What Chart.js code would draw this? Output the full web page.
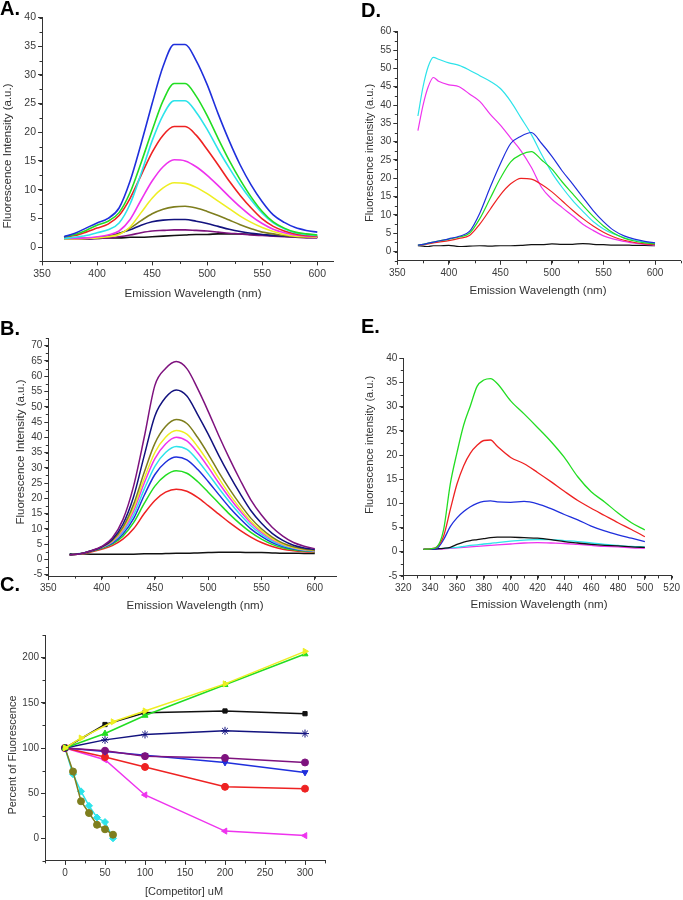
<!DOCTYPE html>
<html>
<head>
<meta charset="UTF-8">
<script src="https://cdn.jsdelivr.net/npm/chart.js@4.4.1/dist/chart.umd.min.js"></script>
<style>
  body { margin: 0; background: #fff; font-family: "Liberation Sans", Arial, sans-serif; }
  #fig { position: relative; width: 683px; height: 900px; overflow: hidden; background: #fff; }
  .panel { position: absolute; }
  .tag { position: absolute; font-weight: bold; font-size: 20px; line-height: 20px; color: #000; }
  .ttl { position: absolute; color: #333; font-size: 11.5px; white-space: nowrap; transform: translate(-50%, -50%); }
  .ttl.v { transform: translate(-50%, -50%) rotate(-90deg); }
  .sm { font-size: 11px; }
</style>
</head>
<body>
<div id="fig">
  <div class="panel" style="left:0;top:0"><canvas id="chartA" width="340" height="300"></canvas></div>
  <div class="panel" style="left:340px;top:0"><canvas id="chartD" width="343" height="300"></canvas></div>
  <div class="panel" style="left:0;top:300px"><canvas id="chartB" width="340" height="300"></canvas></div>
  <div class="panel" style="left:340px;top:300px"><canvas id="chartE" width="343" height="300"></canvas></div>
  <div class="panel" style="left:0;top:600px"><canvas id="chartC" width="340" height="300"></canvas></div>

  <div class="tag" style="left:0;top:-2px">A.</div>
  <div class="tag" style="left:361px;top:0">D.</div>
  <div class="tag" style="left:0;top:318px">B.</div>
  <div class="tag" style="left:361px;top:316px">E.</div>
  <div class="tag" style="left:0;top:574px">C.</div>

  <div class="ttl v" style="left:7px;top:156px">Fluorescence Intensity (a.u.)</div>
  <div class="ttl" style="left:193px;top:293px">Emission Wavelength (nm)</div>
  <div class="ttl v sm" style="left:369px;top:153px">Fluorescence intensity (a.u.)</div>
  <div class="ttl" style="left:538px;top:290px">Emission Wavelength (nm)</div>
  <div class="ttl v" style="left:20px;top:452px">Fluorescence Intensity (a.u.)</div>
  <div class="ttl" style="left:195px;top:605px">Emission Wavelength (nm)</div>
  <div class="ttl v sm" style="left:369px;top:445px">Fluorescence intensity (a.u.)</div>
  <div class="ttl" style="left:539px;top:604px">Emission Wavelength (nm)</div>
  <div class="ttl v sm" style="left:12px;top:755px">Percent of Fluorescence</div>
  <div class="ttl sm" style="left:184px;top:891px">[Competitor] uM</div>
</div>

<script>
// ---- panel A : emission spectra (nm vs a.u.)
var wlA = [370,380,390,400,410,420,430,440,450,460,470,480,490,500,510,520,530,540,550,560,570,580,590,600];
var aBlue    = [1.8,2.4,3.3,4.2,5.0,6.8,11.5,18,25,31.5,35.3,35.3,32.5,28.3,23.2,18.5,14.3,10.8,7.9,5.6,4.3,3.4,2.9,2.6];
var aGreen   = [1.8,2.2,2.9,3.8,4.5,6.0,9.5,14.7,20.3,25.5,28.5,28.5,26.3,22.9,18.9,15.1,11.7,8.7,6.2,4.4,3.3,2.6,2.3,2.1];
var aCyan    = [1.5,1.7,2.0,2.5,3.0,4.2,7.5,12.8,18.5,23,25.5,25.5,23.5,20.5,17,13.8,10.8,8.2,5.9,4.2,3.2,2.5,2.2,2.0];
var aRed     = [1.7,2.0,2.6,3.3,4.0,5.5,8.5,12.5,16.5,19.5,21,21,19.5,17,14.3,11.5,9,6.8,4.9,3.6,2.8,2.3,2.0,1.9];
var aMagenta = [1.5,1.5,1.6,1.8,2.1,2.8,4.8,8.2,11.5,14,15.2,15,14,12.5,10.7,8.8,7,5.4,4.1,3.1,2.5,2.1,1.9,1.8];
var aYellow  = [1.4,1.4,1.5,1.6,1.8,2.2,3.5,6,8.5,10.3,11.2,11.1,10.4,9.3,8,6.7,5.4,4.3,3.4,2.7,2.2,1.9,1.8,1.7];
var aOlive   = [1.4,1.4,1.5,1.6,1.8,2.3,3.3,4.6,5.8,6.6,7.0,7.1,6.8,6.2,5.5,4.7,3.9,3.2,2.6,2.3,2.0,1.8,1.7,1.7];
var aNavy    = [1.5,1.5,1.5,1.6,1.9,2.4,3.0,3.8,4.4,4.7,4.8,4.8,4.5,4.1,3.6,3.1,2.7,2.4,2.2,2.0,1.9,1.8,1.7,1.7];
var aPurple  = [1.4,1.4,1.4,1.5,1.6,1.8,2.1,2.5,2.8,2.9,3.0,3.0,2.9,2.8,2.6,2.4,2.3,2.1,2.0,1.9,1.8,1.7,1.6,1.6];
var aBlack   = [1.5,1.5,1.5,1.5,1.6,1.6,1.7,1.7,1.8,1.9,2.0,2.1,2.2,2.2,2.3,2.3,2.3,2.2,2.1,2.0,1.9,1.8,1.7,1.7];
var aXTicks = [350,400,450,500,550,600];
var aYTicks = [0,5,10,15,20,25,30,35,40];

// ---- panel B
var wlB = [370,380,390,400,410,420,430,440,450,460,470,480,490,500,510,520,530,540,550,560,570,580,590,600];
var bPurple  = [1.5,1.8,2.8,4.2,7,13,24,40,57,62.5,64.8,62.5,56,48.5,40.5,33,26,19.5,14.5,10.5,7.6,5.5,4.3,3.5];
var bNavy    = [1.5,1.8,2.7,4,6.5,11.5,20.5,34,47,53,55.5,53.5,47.5,41,34,27.5,21.5,16,11.8,8.5,6.2,4.6,3.7,3.2];
var bOlive   = [1.5,1.8,2.7,4,6.2,10.5,18,28.5,38,43.5,45.8,44.5,40,34.5,28.5,23,18,13.5,10,7.3,5.3,4.1,3.4,3.0];
var bYellow  = [1.5,1.8,2.7,4,6,10,16.8,26.5,35,40,42.2,41,37,32,26.5,21.3,16.7,12.5,9.3,6.8,5,3.9,3.2,2.9];
var bMagenta = [1.5,1.8,2.7,3.9,5.8,9.5,15.8,25,33,37.8,40,38.8,35,30.2,25,20.2,15.8,11.9,8.8,6.5,4.8,3.8,3.1,2.8];
var bCyan    = [1.6,1.9,2.8,3.9,5.6,9,14.5,23,30.5,35,37,36,32.5,28,23.3,18.8,14.7,11,8.2,6,4.5,3.6,3.0,2.7];
var bBlue    = [1.5,1.8,2.7,3.8,5.3,8.3,13.3,21,27.8,31.8,33.5,32.6,29.5,25.5,21.2,17,13.3,10,7.5,5.5,4.2,3.4,2.9,2.6];
var bGreen   = [1.5,1.8,2.6,3.6,5,7.6,12,18.3,24,27.5,29,28.2,25.5,22,18.4,14.8,11.6,8.8,6.6,4.9,3.8,3.1,2.7,2.5];
var bRed     = [1.5,1.7,2.4,3.3,4.5,6.6,10,15,19.3,22,23,22.3,20.3,17.6,14.8,12,9.5,7.3,5.5,4.2,3.3,2.8,2.5,2.3];
var bBlack   = [1.8,1.8,1.7,1.7,1.7,1.7,1.7,1.8,1.8,1.9,2.0,2.0,2.1,2.2,2.3,2.3,2.3,2.2,2.2,2.1,2.0,2.0,1.9,1.9];
var bXTicks = [350,400,450,500,550,600];
var bYTicks = [-5,0,5,10,15,20,25,30,35,40,45,50,55,60,65,70];

// ---- panel D
var wlD = [370,375,380,385,390,400,410,420,430,440,450,460,470,480,490,500,510,520,530,540,550,560,570,580,590,600];
var dCyan    = [37,45,50.5,53,52.5,51.5,50.8,49.5,48,46.5,44.5,41,36.5,32,26.5,21.5,17.5,14,11,8.2,6.2,4.8,3.8,3.1,2.6,2.3];
var dMagenta = [33,40,45,47.5,46.5,45.5,45,43,41,37.5,34.5,31,27.5,23,17.5,14.3,12,9.8,7.5,5.8,4.3,3.4,2.8,2.3,2.0,1.8];
var dBlue    = [1.8,2.0,2.3,2.6,2.9,3.5,4.2,5.5,10.5,17.5,24,29.5,31.5,32.5,29.5,26,22,18.5,14.8,11.2,8.2,5.8,4.3,3.4,2.8,2.4];
var dGreen   = [1.8,2.0,2.3,2.6,2.9,3.4,4.0,5.0,9,14.5,20,24.5,26.5,27.3,25,22.5,19,15.8,12.6,9.6,7,5,3.7,2.9,2.4,2.1];
var dRed     = [1.7,1.9,2.1,2.4,2.6,3.0,3.6,4.4,7.5,11.5,15.5,18.5,20,19.8,18.3,16.3,13.8,11.3,9,7,5.3,4,3.1,2.5,2.1,1.9];
var dBlack   = [1.6,1.5,1.4,1.6,1.6,1.7,1.4,1.5,1.6,1.5,1.6,1.6,1.7,1.9,1.9,2.1,2.0,2.0,2.2,2.0,1.9,1.8,1.8,1.7,1.7,1.6];
var dXTicks = [350,400,450,500,550,600];
var dYTicks = [0,5,10,15,20,25,30,35,40,45,50,55,60];

// ---- panel E
var wlE = [335,340,345,350,355,360,365,370,375,380,385,390,400,410,420,430,440,450,460,470,480,490,500];
var eGreen   = [0.5,0.6,1.0,4.5,14,20.5,26.2,30.2,34.2,35.5,35.8,34.8,31.2,28.5,25.7,22.8,19.5,15.5,12.4,10.3,8,6,4.5];
var eRed     = [0.5,0.6,1.0,3.2,8.7,14,17.8,20.4,22,23,23.1,21.8,19.5,18.2,16.4,14.5,12.5,10.6,9,7.5,6,4.6,3.1];
var eBlue    = [0.5,0.5,0.7,2.5,5.2,7.0,8.3,9.3,10,10.4,10.5,10.3,10.2,10.4,9.9,8.9,7.7,6.6,5.3,4.3,3.5,2.8,2.1];
var eBlack   = [0.5,0.5,0.6,0.7,0.9,1.5,2.0,2.3,2.5,2.7,2.9,3.0,3.0,2.9,2.8,2.5,2.1,1.8,1.5,1.3,1.2,1.0,0.9];
var eCyan    = [0.5,0.5,0.6,0.7,0.8,0.9,1.1,1.3,1.4,1.6,1.7,1.9,2.2,2.4,2.5,2.5,2.3,2.1,1.8,1.5,1.3,1.1,1.0];
var eMagenta = [0.5,0.5,0.5,0.6,0.7,0.8,0.9,1.0,1.1,1.2,1.3,1.4,1.6,1.8,1.9,1.8,1.7,1.5,1.3,1.1,1.0,0.8,0.7];
var eXTicks = [320,340,360,380,400,420,440,460,480,500,520];
var eYTicks = [-5,0,5,10,15,20,25,30,35,40];

// ---- panel C : percent of fluorescence vs competitor (uM)
var cConc    = [0,50,100,200,300];
var cBlack   = [100,126,139,141,138];
var cRed     = [100,90,79,57,55];
var cGreen   = [100,116,136,170,204];
var cBlue    = [100,96,92,84,73];
var cMagenta = [100,87,48,8,3];
var cNavy    = [100,109,115,119,116];
var cPurple  = [100,97,91,89,84];
var cYellowConc = [0,20,60,100,200,300];
var cYellow  = [100,111,129,141,171,207];
var cLowConc = [0,10,20,30,40,50,60];
var cCyan    = [100,71,52,36,23,18,0];
var cOlive   = [100,74,41,28,15,10,4];
var cXTicks = [0,50,100,150,200,250,300];
var cYTicks = [0,50,100,150,200];

var col = {
  black: '#111111', red: '#ee2222', green: '#22dd22', blue: '#1f2fdc', cyan: '#2de3ea',
  magenta: '#ee33ee', yellow: '#eeee22', olive: '#7e7e1e', navy: '#12127e', purple: '#7e127e'
};
var AX = '#333';
var TXT = '#3a3a3a';
var FONT = '"Liberation Sans", Arial, sans-serif';

// short outward minor ticks between the labelled ones
Chart.register({
  id: 'minorTicks',
  afterDraw: function(chart, args, opts) {
    var ctx = chart.ctx;
    ctx.save();
    ctx.strokeStyle = AX;
    ctx.lineWidth = 1;
    ['x', 'y'].forEach(function(id) {
      var step = opts[id];
      if (!step) return;
      var s = chart.scales[id];
      for (var v = Math.ceil(s.min / step) * step; v <= s.max + 1e-9; v += step) {
        var p = Math.round(s.getPixelForValue(v)) + 0.5;
        ctx.beginPath();
        if (id === 'x') { ctx.moveTo(p, s.top); ctx.lineTo(p, s.top + 2.5); }
        else { ctx.moveTo(s.right, p); ctx.lineTo(s.right - 2.5, p); }
        ctx.stroke();
      }
    });
    ctx.restore();
  }
});

function xy(xs, ys) {
  return xs.map(function(x, i) { return {x: x, y: ys[i]}; });
}

function spectra(xs, list, lw) {
  return list.map(function(s) {
    return {
      data: xy(xs, s[0]), borderColor: s[1], backgroundColor: s[1],
      borderWidth: lw, pointRadius: 0, cubicInterpolationMode: 'monotone', fill: false
    };
  });
}

function scales(xr, yr, xt, yt, yW, xH, fs) {
  function axis(r, t, fit) {
    return {
      type: 'linear', min: r[0], max: r[1],
      border: {display: true, color: AX, width: 1},
      grid: {drawOnChartArea: false, drawTicks: true, tickLength: 4, color: AX},
      ticks: {color: TXT, font: {family: FONT, size: fs}, padding: 2, maxRotation: 0, autoSkip: false},
      afterBuildTicks: function(s) { s.ticks = t.map(function(v) { return {value: v}; }); },
      afterFit: fit
    };
  }
  return {
    x: axis(xr, xt, function(s) { s.height = xH; }),
    y: axis(yr, yt, function(s) { s.width = yW; })
  };
}

function makeChart(id, datasets, sc, pad, minor) {
  new Chart(document.getElementById(id), {
    type: 'line',
    data: {datasets: datasets},
    options: {
      responsive: false, animation: false, devicePixelRatio: 1,
      layout: {padding: pad},
      plugins: {legend: {display: false}, tooltip: {enabled: false}, minorTicks: minor},
      scales: sc
    }
  });
}

makeChart('chartA', spectra(wlA, [
  [aBlue, col.blue], [aGreen, col.green], [aCyan, col.cyan], [aRed, col.red], [aMagenta, col.magenta],
  [aYellow, col.yellow], [aOlive, col.olive], [aNavy, col.navy], [aPurple, col.purple], [aBlack, col.black]
], 1.6), scales([350, 615], [-2.5, 40], aXTicks, aYTicks, 42, 38.6, 10.5),
  {left: 0, top: 17.5, right: 6.2, bottom: 0}, {x: 25, y: 2.5});

makeChart('chartD', spectra(wlD, [
  [dBlue, col.blue], [dGreen, col.green], [dRed, col.red], [dCyan, col.cyan], [dMagenta, col.magenta], [dBlack, col.black]
], 1.2), scales([350, 625], [-2.5, 60], dXTicks, dYTicks, 57.3, 39.2, 10),
  {left: 0, top: 31.7, right: 2.2, bottom: 0}, {x: 25, y: 2.5});

makeChart('chartB', spectra(wlB, [
  [bPurple, col.purple], [bNavy, col.navy], [bOlive, col.olive], [bYellow, col.yellow], [bMagenta, col.magenta],
  [bCyan, col.cyan], [bBlue, col.blue], [bGreen, col.green], [bRed, col.red], [bBlack, col.black]
], 1.5), scales([350, 620], [-5.5, 72.5], bXTicks, bYTicks, 48.3, 23.9, 10),
  {left: 0, top: 38.1, right: 3.9, bottom: 0}, {x: 25, y: 2.5});

makeChart('chartE', spectra(wlE, [
  [eGreen, col.green], [eRed, col.red], [eBlue, col.blue], [eBlack, col.black], [eCyan, col.cyan], [eMagenta, col.magenta]
], 1.3), scales([320, 520], [-5, 40], eXTicks, eYTicks, 63.3, 24.1, 10),
  {left: 0, top: 58.3, right: 11.3, bottom: 0}, {x: 10, y: 2.5});

function markers(xs, ys, c, style, rot, r) {
  return {
    data: xy(xs, ys), borderColor: c, backgroundColor: c, borderWidth: 1.5,
    pointStyle: style, rotation: rot || 0, pointRadius: r || 3.5, pointBorderWidth: 1, tension: 0, fill: false
  };
}

makeChart('chartC', [
  markers(cYellowConc, cYellow, col.yellow, 'triangle', 90),
  markers(cConc, cGreen, col.green, 'triangle', 0),
  markers(cConc, cBlack, col.black, 'rect', 0, 3),
  markers(cConc, cNavy, col.navy, 'star', 0, 4),
  markers(cConc, cPurple, col.purple, 'circle', 0),
  markers(cConc, cBlue, col.blue, 'triangle', 180),
  markers(cConc, cRed, col.red, 'circle', 0),
  markers(cConc, cMagenta, col.magenta, 'triangle', -90),
  markers(cLowConc, cOlive, col.olive, 'circle', 0),
  markers(cLowConc, cCyan, col.cyan, 'rectRot', 0)
], scales([-25, 325], [-25, 225], cXTicks, cYTicks, 45, 39.1, 10),
  {left: 0, top: 35.1, right: 15, bottom: 0}, {x: 25, y: 25});
</script>
</body>
</html>
